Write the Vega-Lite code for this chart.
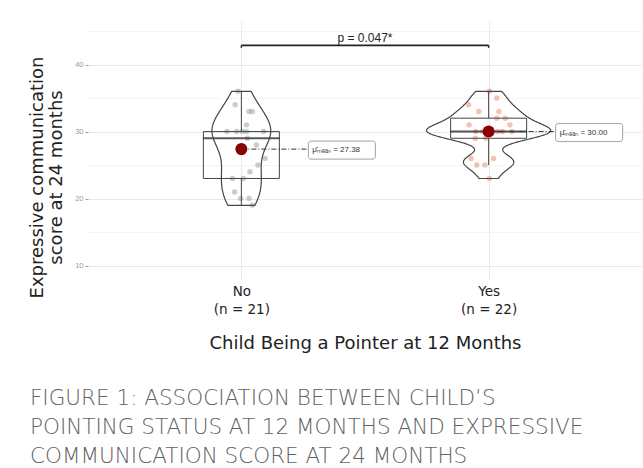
{
  "$schema": "https://vega.github.io/schema/vega-lite/v6.json",
  "autosize": "none",
  "width": 554,
  "height": 258,
  "padding": {"left": 88, "top": 21, "right": 1, "bottom": 189},
  "background": "white",
  "config": {"view": {"stroke": null}, "font": "DejaVu Sans"},
  "title": {
    "text": ["FIGURE 1: ASSOCIATION BETWEEN CHILD’S", "POINTING STATUS AT 12 MONTHS AND EXPRESSIVE", "COMMUNICATION SCORE AT 24 MONTHS"],
    "orient": "bottom", "anchor": "start", "frame": "group", "dx": -58, "offset": 35,
    "fontSize": 21.5, "lineHeight": 29, "font": "DejaVu Sans", "fontWeight": 300, "color": "#626262"
  },
  "resolve": {"axis": {"x": "independent", "y": "independent"}},
  "datasets": {
    "scores": [
      {"group": "No", "pos": 1, "xj": 0.987, "score": 36},
      {"group": "No", "pos": 1, "xj": 0.975, "score": 34},
      {"group": "No", "pos": 1, "xj": 1.031, "score": 33},
      {"group": "No", "pos": 1, "xj": 1.044, "score": 33},
      {"group": "No", "pos": 1, "xj": 1.021, "score": 31},
      {"group": "No", "pos": 1, "xj": 0.942, "score": 30},
      {"group": "No", "pos": 1, "xj": 0.981, "score": 30},
      {"group": "No", "pos": 1, "xj": 1.021, "score": 30},
      {"group": "No", "pos": 1, "xj": 1.090, "score": 30},
      {"group": "No", "pos": 1, "xj": 1.004, "score": 30},
      {"group": "No", "pos": 1, "xj": 1.024, "score": 29},
      {"group": "No", "pos": 1, "xj": 1.061, "score": 28},
      {"group": "No", "pos": 1, "xj": 1.096, "score": 26},
      {"group": "No", "pos": 1, "xj": 1.067, "score": 25},
      {"group": "No", "pos": 1, "xj": 1.035, "score": 24},
      {"group": "No", "pos": 1, "xj": 0.964, "score": 23},
      {"group": "No", "pos": 1, "xj": 1.008, "score": 23},
      {"group": "No", "pos": 1, "xj": 0.973, "score": 21},
      {"group": "No", "pos": 1, "xj": 0.997, "score": 20},
      {"group": "No", "pos": 1, "xj": 1.031, "score": 20},
      {"group": "No", "pos": 1, "xj": 1.044, "score": 19},
      {"group": "Yes", "pos": 2, "xj": 2.003, "score": 36},
      {"group": "Yes", "pos": 2, "xj": 2.033, "score": 35},
      {"group": "Yes", "pos": 2, "xj": 1.919, "score": 34},
      {"group": "Yes", "pos": 2, "xj": 1.960, "score": 33},
      {"group": "Yes", "pos": 2, "xj": 2.042, "score": 33},
      {"group": "Yes", "pos": 2, "xj": 2.033, "score": 32},
      {"group": "Yes", "pos": 2, "xj": 2.067, "score": 32},
      {"group": "Yes", "pos": 2, "xj": 1.921, "score": 31},
      {"group": "Yes", "pos": 2, "xj": 2.086, "score": 31},
      {"group": "Yes", "pos": 2, "xj": 2.036, "score": 30},
      {"group": "Yes", "pos": 2, "xj": 2.095, "score": 30},
      {"group": "Yes", "pos": 2, "xj": 1.976, "score": 30},
      {"group": "Yes", "pos": 2, "xj": 2.008, "score": 30},
      {"group": "Yes", "pos": 2, "xj": 1.948, "score": 30},
      {"group": "Yes", "pos": 2, "xj": 2.056, "score": 30},
      {"group": "Yes", "pos": 2, "xj": 1.946, "score": 29},
      {"group": "Yes", "pos": 2, "xj": 1.988, "score": 29},
      {"group": "Yes", "pos": 2, "xj": 1.929, "score": 26},
      {"group": "Yes", "pos": 2, "xj": 2.020, "score": 26},
      {"group": "Yes", "pos": 2, "xj": 1.952, "score": 25},
      {"group": "Yes", "pos": 2, "xj": 1.985, "score": 25},
      {"group": "Yes", "pos": 2, "xj": 2.003, "score": 23}
    ]
  },
  "data": {"name": "scores"},
  "layer": [
    {
      "mark": {"type": "circle", "size": 30, "opacity": 0.5},
      "encoding": {
        "x": {
          "field": "xj", "type": "quantitative",
          "scale": {"domain": [0.4, 2.6], "nice": false, "zero": false},
          "axis": {
            "title": "Child Being a Pointer at 12 Months",
            "values": [1, 2],
            "labelExpr": "datum.value === 1 ? ['No', '(n = 21)'] : ['Yes', '(n = 22)']",
            "labelFont": "DejaVu Sans", "labelFontSize": 13.5, "labelLineHeight": 18, "labelColor": "#222222",
            "labelFlush": false, "labelOverlap": false,
            "ticks": false, "labelPadding": 5, "domain": false,
            "gridColor": "#ebebeb", "gridWidth": 1,
            "titleFont": "DejaVu Sans", "titleFontSize": 18, "titleFontWeight": "normal", "titleColor": "#222222", "titlePadding": 19
          }
        },
        "y": {
          "field": "score", "type": "quantitative",
          "scale": {"domain": [8, 46.5], "nice": false, "zero": false},
          "axis": {
            "title": ["Expressive communication", "score at 24 months"],
            "values": [10, 15, 20, 25, 30, 35, 40, 45],
            "labelExpr": "datum.value % 10 === 0 ? datum.label : ''",
            "labelFont": "Liberation Sans", "labelFontSize": 7.5, "labelColor": "#9a9a9a",
            "tickColor": {"condition": {"test": "datum.value % 10 === 0", "value": "#9a9a9a"}, "value": "transparent"},
            "tickSize": 3, "labelPadding": 2, "domain": false,
            "gridColor": {"condition": {"test": "datum.value % 10 === 0", "value": "#e8e8e8"}, "value": "#f4f4f4"},
            "gridWidth": 1,
            "titleFont": "DejaVu Sans", "titleFontSize": 18, "titleFontWeight": "normal", "titleColor": "#222222",
            "titleLineHeight": 19, "titlePadding": 9, "titleY": 156
          }
        },
        "color": {
          "field": "group", "type": "nominal",
          "scale": {"domain": ["No", "Yes"], "range": ["#9a9a9a", "#e8836b"]},
          "legend": null
        }
      }
    },
    {
      "mark": {
        "type": "boxplot", "orient": "vertical", "extent": 1.5, "size": 76, "outliers": false,
        "box": {"fill": "white", "fillOpacity": 0, "stroke": "#454545", "strokeWidth": 1},
        "median": {"color": "#111111", "thickness": 2},
        "rule": {"color": "#454545", "strokeWidth": 1}
      },
      "encoding": {
        "x": {"field": "pos", "type": "quantitative", "scale": {"domain": [0.4, 2.6], "nice": false, "zero": false}, "axis": null},
        "y": {"field": "score", "type": "quantitative", "scale": {"domain": [8, 46.5], "nice": false, "zero": false}, "axis": null}
      }
    },
    {
      "transform": [
        {"filter": "datum.group === 'No'"},
        {"density": "score", "bandwidth": 2.466, "extent": [19, 36], "steps": 200, "as": ["score", "density"]},
        {"calculate": "1 - 1.655 * datum.density", "as": "lo"},
        {"calculate": "1 + 1.655 * datum.density", "as": "hi"}
      ],
      "mark": {"type": "area", "orient": "horizontal", "fill": "white", "fillOpacity": 0, "stroke": "#454545", "strokeWidth": 1.2},
      "encoding": {
        "y": {"field": "score", "type": "quantitative", "scale": {"domain": [8, 46.5], "nice": false, "zero": false}, "axis": null},
        "x": {"field": "lo", "type": "quantitative", "scale": {"domain": [0.4, 2.6], "nice": false, "zero": false}, "axis": null},
        "x2": {"field": "hi"}
      }
    },
    {
      "transform": [
        {"filter": "datum.group === 'Yes'"},
        {"density": "score", "bandwidth": 1.086, "extent": [23, 36], "steps": 200, "as": ["score", "density"]},
        {"calculate": "2 - 1.655 * datum.density", "as": "lo"},
        {"calculate": "2 + 1.655 * datum.density", "as": "hi"}
      ],
      "mark": {"type": "area", "orient": "horizontal", "fill": "white", "fillOpacity": 0, "stroke": "#454545", "strokeWidth": 1.2},
      "encoding": {
        "y": {"field": "score", "type": "quantitative", "scale": {"domain": [8, 46.5], "nice": false, "zero": false}, "axis": null},
        "x": {"field": "lo", "type": "quantitative", "scale": {"domain": [0.4, 2.6], "nice": false, "zero": false}, "axis": null},
        "x2": {"field": "hi"}
      }
    },
    {
      "transform": [{"aggregate": [{"op": "mean", "field": "score", "as": "score"}], "groupby": ["pos"]}],
      "mark": {"type": "rule", "x2Offset": 67, "color": "#333333", "strokeWidth": 1, "strokeDash": [5, 2, 1, 2]},
      "encoding": {
        "x": {"field": "pos", "type": "quantitative", "scale": {"domain": [0.4, 2.6], "nice": false, "zero": false}, "axis": null},
        "x2": {"field": "pos"},
        "y": {"field": "score", "type": "quantitative", "scale": {"domain": [8, 46.5], "nice": false, "zero": false}, "axis": null}
      }
    },
    {
      "transform": [{"aggregate": [{"op": "mean", "field": "score", "as": "score"}], "groupby": ["pos"]}],
      "mark": {"type": "rect", "xOffset": 67, "x2Offset": 134, "yOffset": -8, "y2Offset": 10, "fill": "white", "stroke": "#8a8a8a", "strokeWidth": 0.8, "cornerRadius": 2.5},
      "encoding": {
        "x": {"field": "pos", "type": "quantitative", "scale": {"domain": [0.4, 2.6], "nice": false, "zero": false}, "axis": null},
        "x2": {"field": "pos"},
        "y": {"field": "score", "type": "quantitative", "scale": {"domain": [8, 46.5], "nice": false, "zero": false}, "axis": null},
        "y2": {"field": "score"}
      }
    },
    {
      "transform": [
        {"aggregate": [{"op": "mean", "field": "score", "as": "score"}], "groupby": ["pos"]},
        {"calculate": "'μ̂ₘₑₐₙ = ' + format(datum.score, '.2f')", "as": "label"}
      ],
      "mark": {"type": "text", "align": "left", "baseline": "middle", "dx": 71, "dy": 1, "font": "Liberation Sans", "fontSize": 8, "color": "#333333"},
      "encoding": {
        "x": {"field": "pos", "type": "quantitative", "scale": {"domain": [0.4, 2.6], "nice": false, "zero": false}, "axis": null},
        "y": {"field": "score", "type": "quantitative", "scale": {"domain": [8, 46.5], "nice": false, "zero": false}, "axis": null},
        "text": {"field": "label"}
      }
    },
    {
      "transform": [{"aggregate": [{"op": "mean", "field": "score", "as": "score"}], "groupby": ["pos"]}],
      "mark": {"type": "circle", "size": 145, "color": "#8b0000", "opacity": 1},
      "encoding": {
        "x": {"field": "pos", "type": "quantitative", "scale": {"domain": [0.4, 2.6], "nice": false, "zero": false}, "axis": null},
        "y": {"field": "score", "type": "quantitative", "scale": {"domain": [8, 46.5], "nice": false, "zero": false}, "axis": null}
      }
    },
    {
      "data": {"values": [{}]},
      "mark": {"type": "rule", "color": "#222222", "strokeWidth": 1.8},
      "encoding": {
        "x": {"datum": 1, "type": "quantitative", "scale": {"domain": [0.4, 2.6], "nice": false, "zero": false}, "axis": null},
        "x2": {"datum": 2},
        "y": {"datum": 42.85, "type": "quantitative", "scale": {"domain": [8, 46.5], "nice": false, "zero": false}, "axis": null}
      }
    },
    {
      "data": {"values": [{}]},
      "mark": {"type": "rule", "color": "#222222", "strokeWidth": 1.5},
      "encoding": {
        "x": {"datum": 1, "type": "quantitative", "scale": {"domain": [0.4, 2.6], "nice": false, "zero": false}, "axis": null},
        "y": {"datum": 42.85, "type": "quantitative", "scale": {"domain": [8, 46.5], "nice": false, "zero": false}, "axis": null},
        "y2": {"datum": 42.5}
      }
    },
    {
      "data": {"values": [{}]},
      "mark": {"type": "rule", "color": "#222222", "strokeWidth": 1.5},
      "encoding": {
        "x": {"datum": 2, "type": "quantitative", "scale": {"domain": [0.4, 2.6], "nice": false, "zero": false}, "axis": null},
        "y": {"datum": 42.85, "type": "quantitative", "scale": {"domain": [8, 46.5], "nice": false, "zero": false}, "axis": null},
        "y2": {"datum": 42.5}
      }
    },
    {
      "data": {"values": [{}]},
      "mark": {"type": "text", "text": "p = 0.047*", "align": "center", "baseline": "alphabetic", "dy": -3, "font": "Liberation Sans", "fontSize": 12, "color": "#222222"},
      "encoding": {
        "x": {"datum": 1.5, "type": "quantitative", "scale": {"domain": [0.4, 2.6], "nice": false, "zero": false}, "axis": null},
        "y": {"datum": 42.85, "type": "quantitative", "scale": {"domain": [8, 46.5], "nice": false, "zero": false}, "axis": null}
      }
    }
  ]
}
